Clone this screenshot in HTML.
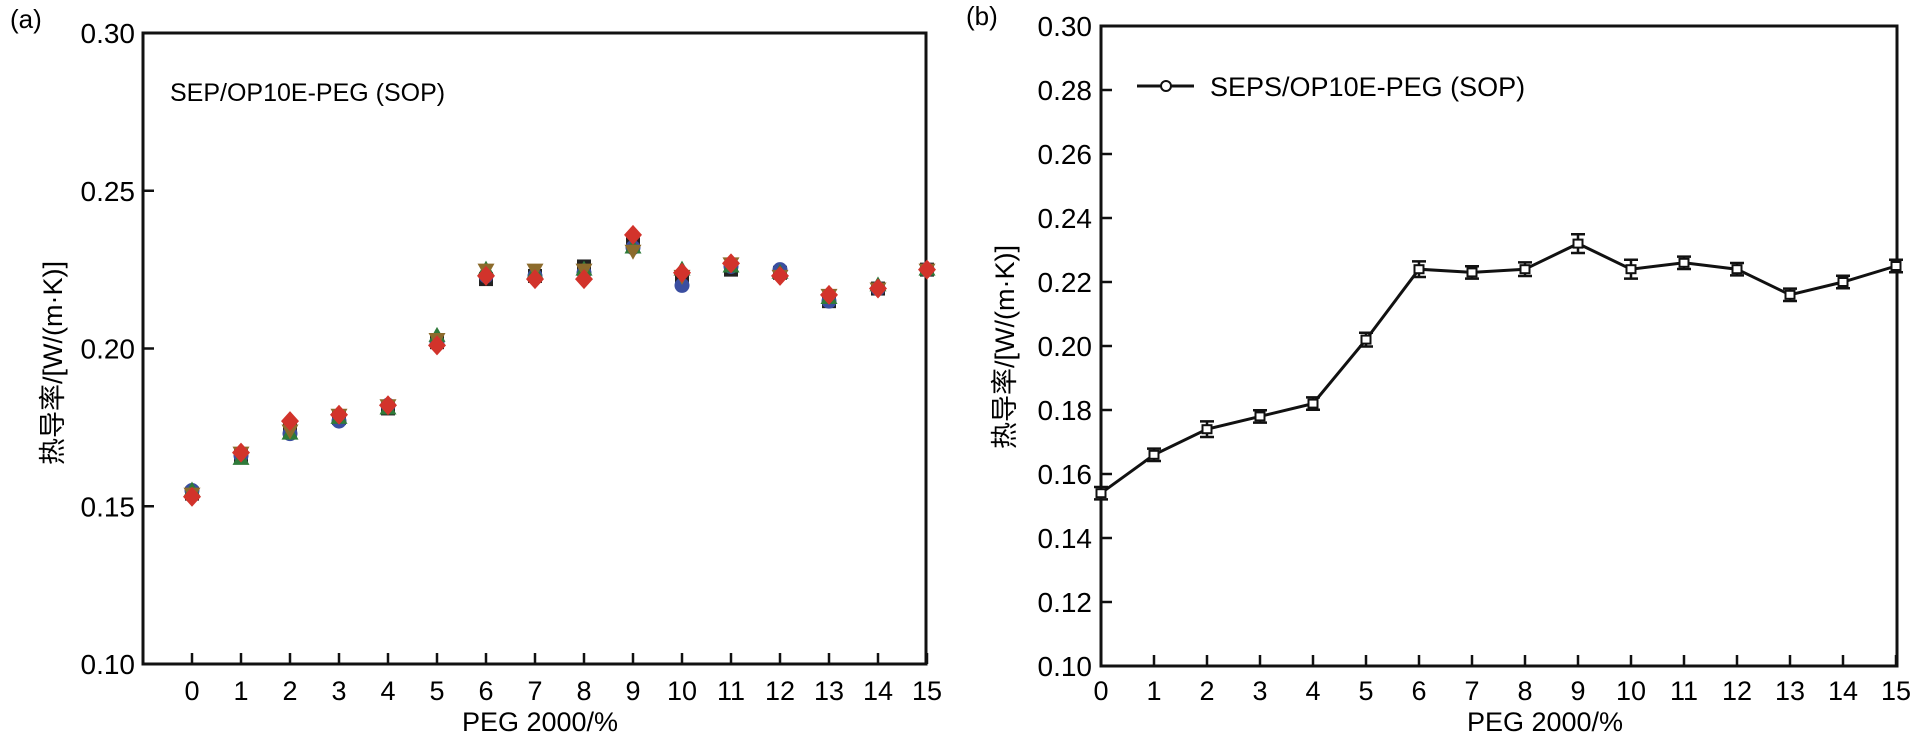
<!DOCTYPE html>
<html><head><meta charset="utf-8"><style>
html,body{margin:0;padding:0;background:#fff;}
svg{display:block;font-family:"Liberation Sans","Noto Sans CJK SC",sans-serif;}
</style></head><body>
<svg id="fig" width="1915" height="740" viewBox="0 0 1915 740" xmlns="http://www.w3.org/2000/svg">
<g id="chartA"></g>
<g id="chartB"></g>
</svg>
<script>
// ---- Chart (a) data ----
const catsA = [0,1,2,3,4,5,6,7,8,9,10,11,12,13,14,15];
const serBlack = [0.154,0.166,0.174,0.178,0.181,0.202,0.222,0.223,0.226,0.233,0.222,0.225,0.224,0.215,0.219,0.225];
const serBlue  = [0.155,0.166,0.173,0.177,0.182,0.202,0.223,0.223,0.224,0.232,0.220,0.226,0.225,0.215,0.219,0.225];
const serGreen = [0.155,0.165,0.173,0.178,0.181,0.204,0.225,0.224,0.225,0.232,0.225,0.226,0.224,0.216,0.220,0.225];
const serOlive = [0.154,0.167,0.174,0.179,0.182,0.203,0.225,0.225,0.225,0.231,0.223,0.227,0.223,0.217,0.219,0.225];
const serRed   = [0.153,0.167,0.177,0.179,0.182,0.201,0.223,0.222,0.222,0.236,0.224,0.227,0.223,0.217,0.219,0.225];
const ticksA = [0.10,0.15,0.20,0.25,0.30];
// ---- Chart (b) data ----
const catsB = [0,1,2,3,4,5,6,7,8,9,10,11,12,13,14,15];
const valsB = [0.154,0.166,0.174,0.178,0.182,0.202,0.224,0.223,0.224,0.232,0.224,0.226,0.224,0.216,0.220,0.225];
const errB  = [0.001,0.001,0.0015,0.001,0.001,0.0012,0.0015,0.001,0.0012,0.002,0.002,0.001,0.001,0.001,0.001,0.001];
const ticksB = [0.10,0.12,0.14,0.16,0.18,0.20,0.22,0.24,0.26,0.28,0.30];

const NS="http://www.w3.org/2000/svg";
function mk(tag,attrs,parent,text){const e=document.createElementNS(NS,tag);for(const k in attrs)e.setAttribute(k,attrs[k]);if(text!==undefined)e.textContent=text;parent.appendChild(e);return e;}

// ---------- Chart A ----------
const gA=document.getElementById('chartA');
const A={l:143,r:926,t:33,b:664,x0:192,dx:49,vmin:0.10,vmax:0.30};
const xA=i=>A.x0+A.dx*i;
const yA=v=>A.b-(v-A.vmin)/(A.vmax-A.vmin)*(A.b-A.t);
let t;
t=mk('text',{x:10,y:28,'font-size':26},gA,'(a)');


let fr=mk('path',{d:`M${A.l},${A.t}H${A.r}V${A.b}H${A.l}Z`,fill:'none',stroke:'#111','stroke-width':3},gA);


ticksA.forEach(v=>{
  const y=yA(v);
  const l=mk('line',{x1:A.l,x2:A.l+11,y1:y,y2:y,stroke:'#111','stroke-width':2.5},gA);
  
  
  const tx=mk('text',{x:A.l-8,y:y+10,'font-size':28,'text-anchor':'end'},gA,v.toFixed(2));
  
  
});
catsA.forEach((c,i)=>{
  const x=xA(i);
  const l=mk('line',{x1:x,x2:x,y1:A.b,y2:A.b-11,stroke:'#111','stroke-width':2.5},gA);
  
  
  const tx=mk('text',{x:x,y:700,'font-size':27,'text-anchor':'middle'},gA,String(c));
  
  
});
t=mk('text',{x:540,y:731,'font-size':27,'text-anchor':'middle'},gA,'PEG 2000/%');


t=mk('text',{x:0,y:0,'font-size':27,'text-anchor':'middle',transform:'translate(62,363) rotate(-90)'},gA,'热导率/[W/(m·K)]');


t=mk('text',{x:170,y:101,'font-size':25},gA,'SEP/OP10E-PEG (SOP)');



const seriesA=[[serBlack,'#222','square'],[serBlue,'#3a4ea0','circle'],[serGreen,'#2f7a3a','up'],[serOlive,'#8c6b2c','down'],[serRed,'#d2332b','diamond']];
seriesA.forEach(([vals,col,shape])=>{
  vals.forEach((v,i)=>{
    const x=xA(i),y=yA(v);let m;
    if(shape==='square')m=mk('rect',{x:x-7,y:y-7,width:14,height:14,fill:col},gA);
    else if(shape==='circle')m=mk('circle',{cx:x,cy:y,r:7.5,fill:col},gA);
    else if(shape==='up')m=mk('polygon',{points:`${x},${y-9} ${x+8.5},${y+6} ${x-8.5},${y+6}`,fill:col},gA);
    else if(shape==='down')m=mk('polygon',{points:`${x},${y+9} ${x+8.5},${y-6} ${x-8.5},${y-6}`,fill:col},gA);
    else m=mk('polygon',{points:`${x},${y-10} ${x+9},${y} ${x},${y+10} ${x-9},${y}`,fill:col},gA);
    
    
  });
});

// ---------- Chart B ----------
const gB=document.getElementById('chartB');
const B={l:1101,r:1897,t:26,b:666,x0:1101,dx:53,vmin:0.10,vmax:0.30};
const xB=i=>B.x0+B.dx*i;
const yB=v=>B.b-(v-B.vmin)/(B.vmax-B.vmin)*(B.b-B.t);
t=mk('text',{x:966,y:25,'font-size':26},gB,'(b)');


fr=mk('path',{d:`M${B.l},${B.t}H${B.r}V${B.b}H${B.l}Z`,fill:'none',stroke:'#111','stroke-width':3},gB);


ticksB.forEach(v=>{
  const y=yB(v);
  const l=mk('line',{x1:B.l,x2:B.l+11,y1:y,y2:y,stroke:'#111','stroke-width':2.5},gB);
  
  
  const tx=mk('text',{x:B.l-9,y:y+10,'font-size':28,'text-anchor':'end'},gB,v.toFixed(2));
  
  
});
catsB.forEach((c,i)=>{
  const x=xB(i);
  const l=mk('line',{x1:x,x2:x,y1:B.b,y2:B.b-11,stroke:'#111','stroke-width':2.5},gB);
  
  
  const tx=mk('text',{x:x,y:700,'font-size':27,'text-anchor':'middle'},gB,String(c));
  
  
});
t=mk('text',{x:1545,y:731,'font-size':27,'text-anchor':'middle'},gB,'PEG 2000/%');


t=mk('text',{x:0,y:0,'font-size':27,'text-anchor':'middle',transform:'translate(1014,347) rotate(-90)'},gB,'热导率/[W/(m·K)]');


// legend
const lg=mk('g',{},gB);


mk('line',{x1:1137,x2:1194,y1:86,y2:86,stroke:'#111','stroke-width':3},lg);
mk('circle',{cx:1166,cy:86,r:5,fill:'#fff',stroke:'#111','stroke-width':2},lg);
mk('text',{x:1210,y:96,'font-size':27},lg,'SEPS/OP10E-PEG (SOP)');
// line
const pts=valsB.map((v,i)=>xB(i)+','+yB(v)).join(' ');
const pl=mk('polyline',{points:pts,fill:'none',stroke:'#111','stroke-width':3},gB);


valsB.forEach((v,i)=>{
  const x=xB(i),y=yB(v),e=errB[i];
  const y1=yB(v+e)-3,y2=yB(v-e)+3;
  const eb=mk('path',{d:`M${x},${y1}V${y2}M${x-7},${y1}H${x+7}M${x-7},${y2}H${x+7}`,stroke:'#111','stroke-width':2.5,fill:'none'},gB);
  
  
  const m=mk('rect',{x:x-4.5,y:y-4,width:9,height:8,fill:'#fff',stroke:'#111','stroke-width':2},gB);
  
  
});
</script>
</body></html>
